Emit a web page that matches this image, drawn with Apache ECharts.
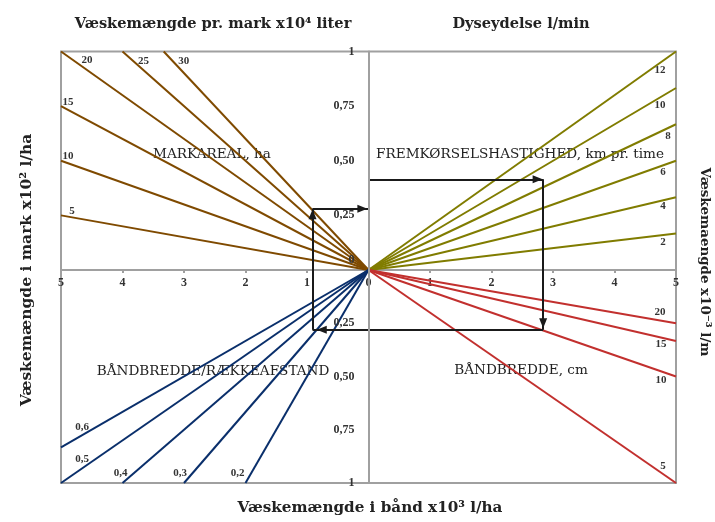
<!DOCTYPE html>
<html><head><meta charset="utf-8">
<script src="https://cdn.jsdelivr.net/npm/echarts@6/dist/echarts.min.js"></script>
<style>html,body{margin:0;padding:0;background:#fff}#c{width:715px;height:522px}</style>
</head><body><div id="c"></div>
<script>
// ---- data ----
const markarealHa = ['5', '10', '15', '20', '25', '30'];
const markarealEnd = [[-5, 0.25], [-5, 0.5], [-5, 0.75], [-5, 1], [-4, 1], [-3.33, 1]];
const speedKmh = ['2', '4', '6', '8', '10', '12'];
const speedEnd = [[5, 0.167], [5, 0.333], [5, 0.5], [5, 0.667], [5, 0.833], [5, 1]];
const bandCm = ['5', '10', '15', '20'];
const bandEnd = [[5, -1], [5, -0.5], [5, -0.333], [5, -0.25]];
const rowRatio = ['0,2', '0,3', '0,4', '0,5', '0,6'];
const rowEnd = [[-2, -1], [-3, -1], [-4, -1], [-5, -1], [-5, -0.833]];
// example path (nomogram reading)
const pathUpper = [[[-0.91, 0], [-0.91, 0.28]], [[-0.91, 0.28], [0, 0.28]], [[0, 0.415], [2.84, 0.415]], [[2.84, 0.415], [2.84, 0]]];
const arrowUpper = [[[-0.91, 0.1], [-0.91, 0.255]], [[-0.5, 0.28], [-0.1, 0.28]], [[2.0, 0.415], [2.75, 0.415]]];
const pathLower = [[[-0.91, 0], [-0.91, -0.28]], [[2.84, 0], [2.84, -0.28]], [[2.84, -0.28], [-0.91, -0.28]]];
const arrowLower = [[[2.84, -0.1], [2.84, -0.25]], [[0, -0.28], [-0.76, -0.28]]];

// ---- styles ----
const markarealOffsets = [[11, -4], [7, -5], [7, -4], [26, 9], [21, 10], [20, 10]];
const speedOffsets = [[-13, 9], [-13, 9], [-13, 11], [-8, 12], [-16, 17], [-16, 19]];
const bandOffsets = [[-13, -17], [-15, 4], [-15, 3], [-16, -11]];
const rowOffsets = [[-8, -10], [-4, -10], [-2, -10], [21, -24], [21, -20]];
const GRAY = '#A0A0A0';
const numFont = { fontFamily: 'Liberation Serif', fontWeight: 'bold', color: '#333' };

function fan(labels, ends, offsets, color, gi) {
  return labels.map((lab, i) => ({
    type: 'line', xAxisIndex: gi, yAxisIndex: gi, silent: true, animation: false, clip: false,
    symbol: 'circle', symbolSize: 0, showSymbol: true, z: 3,
    lineStyle: { color: color, width: 2 }, itemStyle: { color: color },
    data: [[0, 0], {
      value: ends[i],
      label: Object.assign({ show: true, formatter: lab, position: 'inside', offset: offsets[i], fontSize: 11 }, numFont)
    }]
  }));
}
function path(plain, arrows, gi) {
  const d = plain.map(s => [{ coord: s[0], symbol: 'none' }, { coord: s[1], symbol: 'none' }])
    .concat(arrows.map(s => [{ coord: s[0], symbol: 'none' }, { coord: s[1], symbol: 'triangle' }]));
  return {
    type: 'line', xAxisIndex: gi, yAxisIndex: gi, data: [], silent: true, animation: false, z: 5,
    markLine: {
      silent: true, animation: false, symbolSize: [8, 10], precision: 4,
      lineStyle: { color: '#1a1a1a', width: 2, type: 'solid' },
      label: { show: false }, emphasis: { disabled: true }, data: d
    }
  };
}
function yFmt(v) {
  const a = Math.abs(v);
  if (a === 1) return '1';
  if (a === 0) return '';
  return a.toFixed(2).replace('.', ',');
}

const chart = echarts.init(document.getElementById('c'), null, { renderer: 'canvas' });
const grid = (top, height) => ({ left: 61, width: 615, top: top, height: height, show: true, borderColor: GRAY, borderWidth: 2, containLabel: false, outerBoundsMode: 'none' });
const xLine = { show: true, onZero: true, lineStyle: { color: GRAY, width: 2 } };
const yLine = { show: true, onZero: false, lineStyle: { color: GRAY, width: 2 } };

chart.setOption({
  animation: false,
  backgroundColor: '#fff',
  grid: [grid(51.5, 218.5), grid(270, 213)],
  xAxis: [
    { gridIndex: 0, type: 'value', min: -5, max: 5, interval: 1, position: 'bottom',
      axisLine: xLine, axisTick: { show: true, length: 3, lineStyle: { color: GRAY, width: 2 } }, splitLine: { show: false },
      axisLabel: Object.assign({ fontSize: 12, margin: 7, showMinLabel: true, showMaxLabel: true, hideOverlap: false, formatter: v => String(Math.abs(v)) }, numFont) },
    { gridIndex: 1, type: 'value', min: -5, max: 5, interval: 1,
      axisLine: { show: false }, axisTick: { show: false }, axisLabel: { show: false }, splitLine: { show: false } }
  ],
  yAxis: [
    { gridIndex: 0, type: 'value', min: 0, max: 1, interval: 0.25, position: 'left', offset: -307.5, z: 10,
      axisLine: yLine, axisTick: { show: false }, splitLine: { show: false },
      axisLabel: Object.assign({ fontSize: 12, margin: 14, showMinLabel: true, showMaxLabel: true, hideOverlap: false,
        formatter: v => v === 0 ? '{z|0}' : yFmt(v),
        rich: { z: Object.assign({ fontSize: 12, padding: [0, 0, 20, 0] }, numFont) } }, numFont) },
    { gridIndex: 1, type: 'value', min: -1, max: 0, interval: 0.25, position: 'left', offset: -307.5, z: 10,
      axisLine: yLine, axisTick: { show: false }, splitLine: { show: false },
      axisLabel: Object.assign({ fontSize: 12, margin: 14, showMinLabel: true, showMaxLabel: true, formatter: yFmt }, numFont) }
  ],
  graphic: [
    { type: 'text', z: 0, x: 213, y: 24, style: { text: 'Væskemængde pr. mark x10⁴ liter', font: 'bold 14.6px "DejaVu Serif"', fill: '#222', align: 'center', verticalAlign: 'middle' } },
    { type: 'text', z: 0, x: 521, y: 24, style: { text: 'Dyseydelse l/min', font: 'bold 14.6px "DejaVu Serif"', fill: '#222', align: 'center', verticalAlign: 'middle' } },
    { type: 'text', z: 0, x: 370, y: 508, style: { text: 'Væskemængde i bånd x10³ l/ha', font: 'bold 15.2px "DejaVu Serif"', fill: '#222', align: 'center', verticalAlign: 'middle' } },
    { type: 'text', z: 0, x: 27, y: 270, rotation: Math.PI / 2, style: { text: 'Væskemængde i mark x10² l/ha', font: 'bold 15.5px "DejaVu Serif"', fill: '#222', align: 'center', verticalAlign: 'middle' } },
    { type: 'text', z: 0, x: 704, y: 262, rotation: -Math.PI / 2, style: { text: 'Væskemaengde x10⁻³ l/m', font: 'bold 13.4px "DejaVu Serif"', fill: '#222', align: 'center', verticalAlign: 'middle' } },
    { type: 'text', z: 0, x: 212, y: 154, style: { text: 'MARKAREAL, ha', font: '13.6px "DejaVu Serif"', fill: '#222', align: 'center', verticalAlign: 'middle' } },
    { type: 'text', z: 0, x: 520, y: 154, style: { text: 'FREMKØRSELSHASTIGHED, km pr. time', font: '13.6px "DejaVu Serif"', fill: '#222', align: 'center', verticalAlign: 'middle' } },
    { type: 'text', z: 0, x: 213, y: 371, style: { text: 'BÅNDBREDDE/RÆKKEAFSTAND', font: '13.6px "DejaVu Serif"', fill: '#222', align: 'center', verticalAlign: 'middle' } },
    { type: 'text', z: 0, x: 521, y: 370, style: { text: 'BÅNDBREDDE, cm', font: '13.6px "DejaVu Serif"', fill: '#222', align: 'center', verticalAlign: 'middle' } }
  ],
  series: [].concat(
    fan(markarealHa, markarealEnd, markarealOffsets, '#7F4A00', 0),
    fan(speedKmh, speedEnd, speedOffsets, '#807C00', 0),
    fan(bandCm, bandEnd, bandOffsets, '#C2302E', 1),
    fan(rowRatio, rowEnd, rowOffsets, '#0A2F6B', 1),
    [path(pathUpper, arrowUpper, 0), path(pathLower, arrowLower, 1)]
  )
});
</script>
</body></html>
